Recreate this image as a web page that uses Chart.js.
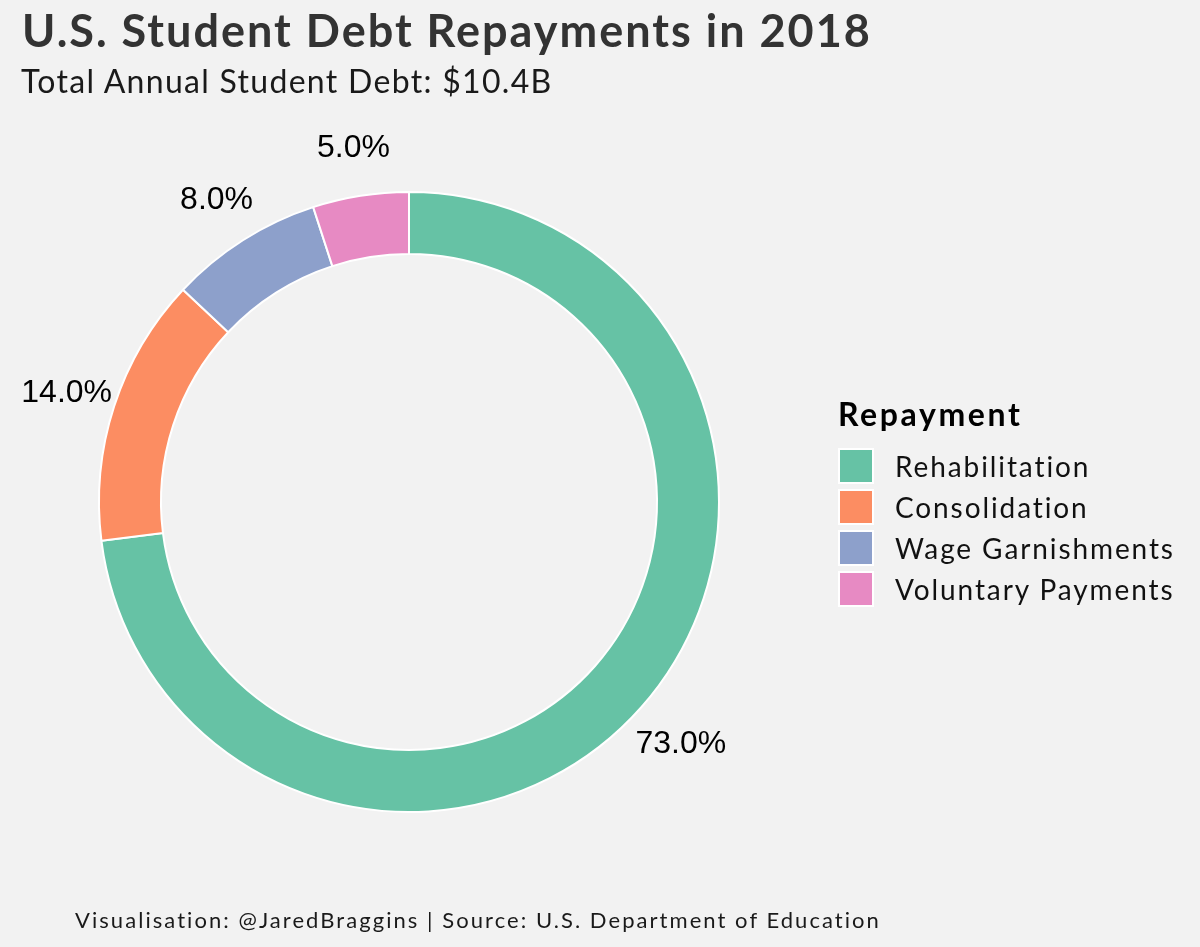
<!DOCTYPE html>
<html lang="en">
	<head>
		<meta charset="UTF-8" />
		<title>U.S. Student Debt Repayments in 2018</title>
		<script src="https://cdn.jsdelivr.net/npm/chart.js"></script>
		<style>
			html,
			body {
				margin: 0;
				padding: 0;
				background: #f2f2f2;
			}
			#wrap {
				position: relative;
				width: 1200px;
				height: 947px;
				overflow: hidden;
				font-family: "Lato", "DejaVu Sans", sans-serif;
			}
			#chart {
				position: absolute;
				left: 0;
				top: 0;
			}
			.txt {
				position: absolute;
				white-space: nowrap;
				line-height: 1;
			}
			#title {
				left: 22px;
				top: 8px;
				font-size: 45px;
				font-weight: 700;
				letter-spacing: 2px;
				color: #333333;
			}
			#subtitle {
				left: 21px;
				top: 65px;
				font-size: 32px;
				letter-spacing: 1.3px;
				color: #1a1a1a;
			}
			#footer {
				left: 75px;
				top: 909px;
				font-size: 22px;
				letter-spacing: 2.05px;
				color: #1a1a1a;
			}
			#legend {
				position: absolute;
				left: 838px;
				top: 398px;
			}
			#legend h3 {
				margin: 0 0 15px 0;
				font-size: 32px;
				font-weight: 700;
				letter-spacing: 2.6px;
				line-height: 1;
				color: #000;
			}
			#legend .item {
				display: flex;
				align-items: center;
				height: 41px;
			}
			#legend .box {
				width: 36px;
				height: 36px;
				border: 2px solid #ffffff;
				box-sizing: border-box;
				margin-right: 21px;
			}
			#legend .lab {
				font-size: 28px;
				letter-spacing: 1.9px;
				color: #111;
			}
		</style>
	</head>
	<body>
		<div id="wrap">
			<canvas id="chart" width="1200" height="947"></canvas>
			<div class="txt" id="title">U.S. Student Debt Repayments in 2018</div>
			<div class="txt" id="subtitle">Total Annual Student Debt: $10.4B</div>
			<div id="legend"><h3>Repayment</h3></div>
			<div class="txt" id="footer">
				Visualisation: @JaredBraggins | Source: U.S. Department of Education
			</div>
		</div>

		<script>
			// data (share of repayments, %)
			const categories = [
				"Rehabilitation",
				"Consolidation",
				"Wage Garnishments",
				"Voluntary Payments",
			];
			const shares = [73, 14, 8, 5];
			const colours = ["#66c2a5", "#fc8d62", "#8da0cb", "#e78ac3"];

			// percentage labels placed just outside each slice
			const outsideLabels = {
				id: "outsideLabels",
				afterDatasetsDraw(chart) {
					const ctx = chart.ctx;
					const meta = chart.getDatasetMeta(0);
					const total = shares.reduce((a, b) => a + b, 0);
					ctx.save();
					ctx.font = '32px "Liberation Sans", Arial, sans-serif';
					ctx.fillStyle = "#000";
					ctx.textAlign = "center";
					ctx.textBaseline = "middle";
					meta.data.forEach((arc, i) => {
						const p = arc.getProps(
							["x", "y", "startAngle", "endAngle", "outerRadius"],
							true
						);
						const mid = (p.startAngle + p.endAngle) / 2;
						const r = p.outerRadius + 51;
						const pct = ((shares[i] / total) * 100).toFixed(1) + "%";
						ctx.fillText(
							pct,
							p.x + Math.cos(mid) * r + 1,
							p.y + Math.sin(mid) * r + 3
						);
					});
					ctx.restore();
				},
			};

			const chart = new Chart(document.getElementById("chart"), {
				type: "doughnut",
				data: {
					labels: categories,
					datasets: [
						{
							data: shares,
							backgroundColor: colours,
							borderColor: "#ffffff",
							borderWidth: 2,
						},
					],
				},
				options: {
					responsive: false,
					animation: false,
					cutout: "80%",
					layout: {
						padding: { left: 98, top: 191, right: 480, bottom: 134 },
					},
					plugins: {
						legend: { display: false },
						tooltip: { enabled: false },
					},
				},
				plugins: [outsideLabels],
			});

			// legend built from the same arrays
			const legend = document.getElementById("legend");
			categories.forEach((name, i) => {
				const row = document.createElement("div");
				row.className = "item";
				row.innerHTML =
					'<div class="box" style="background:' +
					colours[i] +
					'"></div><div class="lab">' +
					name +
					"</div>";
				legend.appendChild(row);
			});
		</script>
	</body>
</html>
